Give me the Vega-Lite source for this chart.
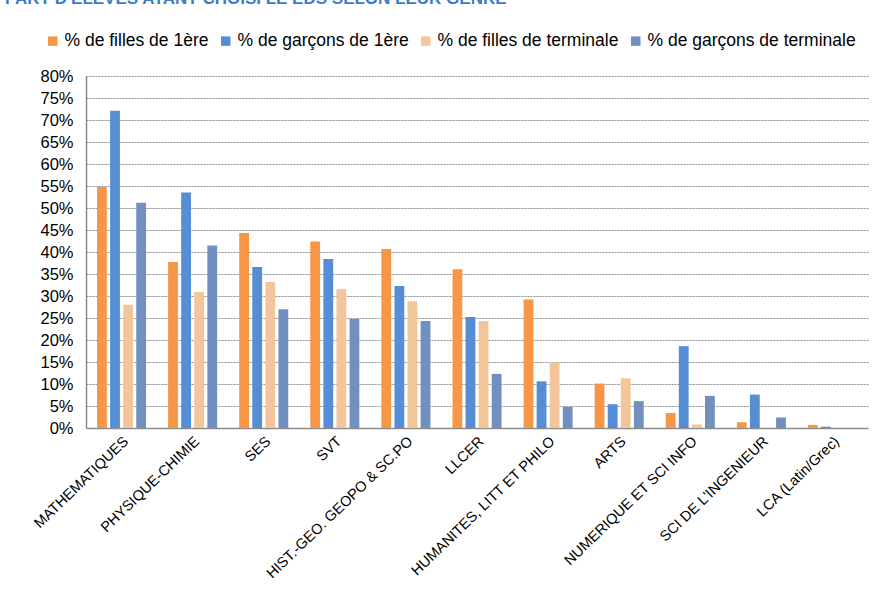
{
  "$schema": "https://vega.github.io/schema/vega-lite/v6.json",
  "width": 782,
  "height": 352,
  "autosize": {"type": "none"},
  "padding": {"left": 86, "top": 76, "right": 9, "bottom": 168},
  "background": "white",
  "title": {
    "text": "PART D'ELEVES AYANT CHOISI LE EDS SELON LEUR GENRE",
    "anchor": "start",
    "frame": "group",
    "orient": "top",
    "dx": -81,
    "dy": -20,
    "fontSize": 17,
    "fontWeight": "bold",
    "font": "Liberation Sans",
    "color": "#3b7dc4"
  },
  "data": {
    "values": [
      {"cat": "MATHEMATIQUES", "serie": "% de filles de 1ère", "v": 54.8},
      {"cat": "MATHEMATIQUES", "serie": "% de garçons de 1ère", "v": 72.1},
      {"cat": "MATHEMATIQUES", "serie": "% de filles de terminale", "v": 28.0},
      {"cat": "MATHEMATIQUES", "serie": "% de garçons de terminale", "v": 51.2},
      {"cat": "PHYSIQUE-CHIMIE", "serie": "% de filles de 1ère", "v": 37.7},
      {"cat": "PHYSIQUE-CHIMIE", "serie": "% de garçons de 1ère", "v": 53.5},
      {"cat": "PHYSIQUE-CHIMIE", "serie": "% de filles de terminale", "v": 30.9},
      {"cat": "PHYSIQUE-CHIMIE", "serie": "% de garçons de terminale", "v": 41.5},
      {"cat": "SES", "serie": "% de filles de 1ère", "v": 44.3},
      {"cat": "SES", "serie": "% de garçons de 1ère", "v": 36.6},
      {"cat": "SES", "serie": "% de filles de terminale", "v": 33.2},
      {"cat": "SES", "serie": "% de garçons de terminale", "v": 27.0},
      {"cat": "SVT", "serie": "% de filles de 1ère", "v": 42.4},
      {"cat": "SVT", "serie": "% de garçons de 1ère", "v": 38.4},
      {"cat": "SVT", "serie": "% de filles de terminale", "v": 31.6},
      {"cat": "SVT", "serie": "% de garçons de terminale", "v": 24.8},
      {"cat": "HIST.-GEO. GEOPO & SC.PO", "serie": "% de filles de 1ère", "v": 40.7},
      {"cat": "HIST.-GEO. GEOPO & SC.PO", "serie": "% de garçons de 1ère", "v": 32.3},
      {"cat": "HIST.-GEO. GEOPO & SC.PO", "serie": "% de filles de terminale", "v": 28.8},
      {"cat": "HIST.-GEO. GEOPO & SC.PO", "serie": "% de garçons de terminale", "v": 24.3},
      {"cat": "LLCER", "serie": "% de filles de 1ère", "v": 36.1},
      {"cat": "LLCER", "serie": "% de garçons de 1ère", "v": 25.2},
      {"cat": "LLCER", "serie": "% de filles de terminale", "v": 24.3},
      {"cat": "LLCER", "serie": "% de garçons de terminale", "v": 12.3},
      {"cat": "HUMANITES, LITT ET PHILO", "serie": "% de filles de 1ère", "v": 29.2},
      {"cat": "HUMANITES, LITT ET PHILO", "serie": "% de garçons de 1ère", "v": 10.6},
      {"cat": "HUMANITES, LITT ET PHILO", "serie": "% de filles de terminale", "v": 14.9},
      {"cat": "HUMANITES, LITT ET PHILO", "serie": "% de garçons de terminale", "v": 4.8},
      {"cat": "ARTS", "serie": "% de filles de 1ère", "v": 10.1},
      {"cat": "ARTS", "serie": "% de garçons de 1ère", "v": 5.4},
      {"cat": "ARTS", "serie": "% de filles de terminale", "v": 11.3},
      {"cat": "ARTS", "serie": "% de garçons de terminale", "v": 6.1},
      {"cat": "NUMERIQUE ET SCI INFO", "serie": "% de filles de 1ère", "v": 3.4},
      {"cat": "NUMERIQUE ET SCI INFO", "serie": "% de garçons de 1ère", "v": 18.6},
      {"cat": "NUMERIQUE ET SCI INFO", "serie": "% de filles de terminale", "v": 0.8},
      {"cat": "NUMERIQUE ET SCI INFO", "serie": "% de garçons de terminale", "v": 7.3},
      {"cat": "SCI DE L'INGENIEUR", "serie": "% de filles de 1ère", "v": 1.3},
      {"cat": "SCI DE L'INGENIEUR", "serie": "% de garçons de 1ère", "v": 7.6},
      {"cat": "SCI DE L'INGENIEUR", "serie": "% de filles de terminale", "v": 0.0},
      {"cat": "SCI DE L'INGENIEUR", "serie": "% de garçons de terminale", "v": 2.4},
      {"cat": "LCA (Latin/Grec)", "serie": "% de filles de 1ère", "v": 0.7},
      {"cat": "LCA (Latin/Grec)", "serie": "% de garçons de 1ère", "v": 0.3},
      {"cat": "LCA (Latin/Grec)", "serie": "% de filles de terminale", "v": 0.0},
      {"cat": "LCA (Latin/Grec)", "serie": "% de garçons de terminale", "v": 0.0}
    ]
  },
  "mark": {"type": "bar"},
  "encoding": {
    "x": {
      "field": "cat",
      "type": "nominal",
      "sort": null,
      "title": null,
      "scale": {"paddingInner": 0.31, "paddingOuter": 0.155},
      "axis": {
        "labelAngle": -44,
        "labelAlign": "right",
        "labelBaseline": "top",
        "labelFontSize": 14.5,
        "labelFont": "Liberation Sans",
        "labelColor": "#000000",
        "labelPadding": 6,
        "labelLimit": 300,
        "ticks": false,
        "domainColor": "#8c8c8c",
        "domainWidth": 1.5,
        "grid": false
      }
    },
    "xOffset": {
      "field": "serie",
      "type": "nominal",
      "sort": ["% de filles de 1ère", "% de garçons de 1ère", "% de filles de terminale", "% de garçons de terminale"],
      "scale": {"paddingInner": 0.25}
    },
    "y": {
      "field": "v",
      "type": "quantitative",
      "title": null,
      "scale": {"domain": [0, 80], "nice": false},
      "axis": {
        "values": [0, 5, 10, 15, 20, 25, 30, 35, 40, 45, 50, 55, 60, 65, 70, 75, 80],
        "labelExpr": "datum.value + '%'",
        "labelFontSize": 16.5,
        "labelFont": "Liberation Sans",
        "labelColor": "#000000",
        "labelPadding": 13,
        "ticks": false,
        "domainColor": "#8c8c8c",
        "domainWidth": 1.5,
        "gridColor": "#8f8f8f",
        "gridDash": [2, 1],
        "gridWidth": 1
      }
    },
    "color": {
      "field": "serie",
      "type": "nominal",
      "title": null,
      "scale": {
        "domain": ["% de filles de 1ère", "% de garçons de 1ère", "% de filles de terminale", "% de garçons de terminale"],
        "range": ["#f79646", "#558ed5", "#f3c59b", "#7290bf"]
      },
      "legend": {
        "orient": "none",
        "legendX": -42,
        "legendY": -44,
        "direction": "horizontal",
        "columns": 4,
        "symbolType": "square",
        "symbolSize": 90,
        "symbolStrokeWidth": 0,
        "labelFontSize": 17.5,
        "labelFont": "Liberation Sans",
        "labelColor": "#000000",
        "labelOffset": 3,
        "columnPadding": 8,
        "labelLimit": 400
      }
    }
  },
  "config": {
    "view": {"stroke": null}
  }
}
